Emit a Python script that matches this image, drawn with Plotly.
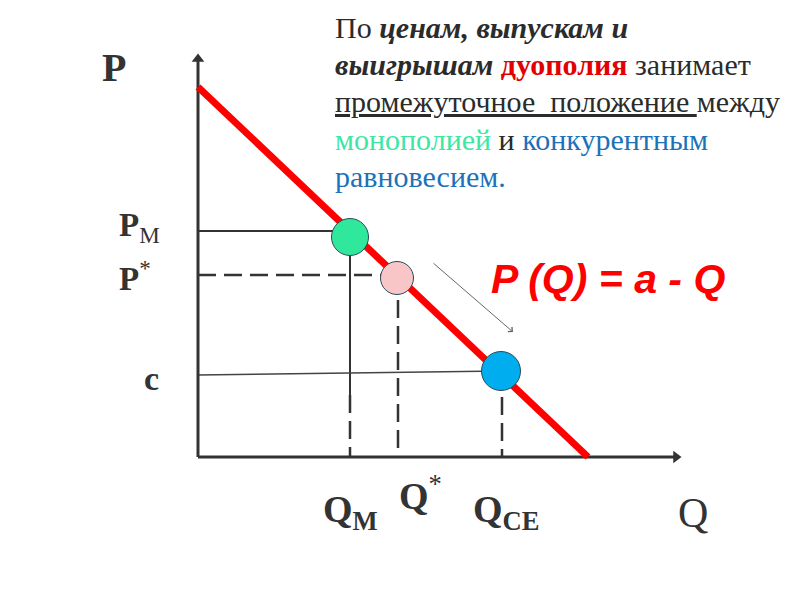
import plotly.graph_objects as go

# ---- data (model units: Q to the right, P up) ----
axis_Q_max = 484
axis_P_max = 404
demand_Q = [0, 390]
demand_P = [370, 0]

point_names = ["monopoly", "duopoly", "competitive"]
point_Q = [152, 199, 303]
point_P = [220, 179, 86]
point_colors = ["#30e89c", "#f8c6c6", "#00aeef"]
point_sizes = [37, 33, 39]

P_M = 226
P_star = 182
c_line_P = [82, 86]
Q_M = 152
Q_star = 200
Q_CE = 304
QM_solid_bottom = 62

FF = "font-family:Liberation Serif"
paragraph_lines = [
    "По <b><i>ценам, выпускам и</i></b>",
    f"<b><i>выигрышам</i></b> <b><span style='color:#e30000;{FF}'>дуополия</span></b> занимает",
    "<u>промежуточное\u00a0 положение\u00a0</u>между",
    f"<span style='color:#3ee6a4;{FF}'>монополией</span> и <span style='color:#1c72b8;{FF}'>конкурентным</span>",
    f"<span style='color:#1c72b8;{FF}'>равновесием.</span>",
]

AX = "#333333"
SERIF = "Liberation Serif, Times New Roman, serif"
CYR_SERIF = "Liberation Serif"
SANS = "Liberation Sans, Arial, sans-serif"

fig = go.Figure()

def line(xs, ys, color=AX, width=2, dash="solid"):
    fig.add_trace(go.Scatter(x=xs, y=ys, mode="lines", hoverinfo="skip",
                             line=dict(color=color, width=width, dash=dash)))

DASH = "18px,8px"
# guide lines
line([0, point_Q[0]], [P_M, P_M], width=2)
line([point_Q[0], point_Q[0]], [point_P[0], QM_solid_bottom], width=2)
line([Q_M, Q_M], [QM_solid_bottom, 0], width=2.5, dash=DASH)
line([0, point_Q[1]], [P_star, P_star], width=2.5, dash=DASH)
line([Q_star, Q_star], [157, 0], width=2.5, dash=DASH)
line([Q_CE, Q_CE], [point_P[2], 0], width=2.5, dash=DASH)
line([0, point_Q[2]], c_line_P, color="#444444", width=1.3)

# axes
line([0, 0], [0, axis_P_max - 8], width=3)
line([0, axis_Q_max - 8], [0, 0], width=3)
fig.add_trace(go.Scatter(x=[0], y=[axis_P_max - 6], mode="markers", hoverinfo="skip",
                         marker=dict(symbol="triangle-up", size=11, color=AX, opacity=1)))
fig.add_trace(go.Scatter(x=[axis_Q_max - 6], y=[0], mode="markers", hoverinfo="skip",
                         marker=dict(symbol="triangle-right", size=11, color=AX, opacity=1)))

# demand curve
line(demand_Q, demand_P, color="#ff0000", width=7)

# equilibrium points
fig.add_trace(go.Scatter(x=point_Q, y=point_P, mode="markers", hoverinfo="skip",
                         text=point_names,
                         marker=dict(size=point_sizes, color=point_colors, opacity=1,
                                     line=dict(color="#2a4a5a", width=1))))

# thin arrow
fig.add_annotation(x=315, y=125, ax=234, ay=195, xref="x", yref="y", axref="x", ayref="y",
                   showarrow=True, arrowhead=4, arrowsize=1.2, arrowwidth=1,
                   arrowcolor="#666666", text="")

def label(x, y, text, size, color="#333333", family=SERIF, xanchor="left"):
    fig.add_annotation(x=x, y=y, xref="x", yref="y", text=text, showarrow=False,
                       xanchor=xanchor, yanchor="middle",
                       font=dict(family=family, size=size, color=color))

label(-84, 390, "<b>P</b>", 40, xanchor="center")
label(-81, 230, "<b>P</b><sub>M</sub>", 33)
label(-81, 181, "<b>P</b><sup>*</sup>", 33)
label(-47, 79, "<b>c</b>", 34, xanchor="center")
label(123, -55, "<b>Q<sub>M</sub></b>", 38)
label(199, -36, "<b>Q</b><sup>*</sup>", 38)
label(273, -55, "<b>Q<sub>CE</sub></b>", 38)
label(478, -56, "Q", 42)

label(410, 178, "<b><i>P (Q) = a - Q</i></b>", 41, color="#ff0000", family=SANS, xanchor="center")

para_Y = [430, 393, 356, 318, 281]
for txt, yy in zip(paragraph_lines, para_Y):
    label(135, yy, txt, 30, color="#2b2b2b", family=CYR_SERIF)

# the page body adds an 8px offset, so shift the ranges to compensate
fig.update_layout(
    width=800, height=600,
    margin=dict(l=0, r=0, t=0, b=0),
    paper_bgcolor="white", plot_bgcolor="white",
    showlegend=False,
    xaxis=dict(range=[-190, 610], visible=False, fixedrange=True),
    yaxis=dict(range=[-151, 449], visible=False, fixedrange=True),
)

fig.write_html("out.html")
